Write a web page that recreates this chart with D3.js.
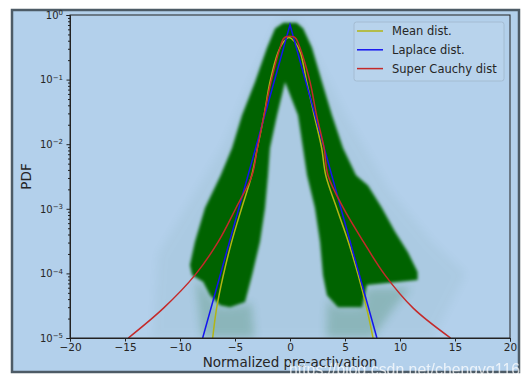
<!DOCTYPE html>
<html>
<head>
<meta charset="utf-8">
<script src="https://cdn.jsdelivr.net/npm/d3@7"></script>
<style>
  body { margin: 0; background: #ffffff; }
  text { font-family: "DejaVu Sans", sans-serif; }
</style>
</head>
<body>
<div id="chart"></div>
<script>
// ticks
var xTicks = [-20, -15, -10, -5, 0, 5, 10, 15, 20];
var yTickExps = [0, -1, -2, -3, -4, -5];

// legend
var seriesNames = ["Mean dist.", "Laplace dist.", "Super Cauchy dist"];

// curves: [x, pdf]
var meanDist = [
  [-7.03, 1e-5], [-6.67, 2.9e-5], [-6.06, 9.4e-5], [-5.3, 3.1e-4], [-4.39, 1.03e-3],
  [-3.48, 3.3e-3], [-2.97, 8.7e-3], [-2.36, 0.028], [-1.82, 0.092], [-1.1, 0.26],
  [-0.6, 0.38], [-0.1, 0.45], [0.45, 0.38], [0.95, 0.26], [1.52, 0.092], [2.2, 0.028],
  [2.88, 8.7e-3], [3.25, 3.3e-3], [4.24, 1.03e-3], [5.3, 3.1e-4], [6.2, 9.4e-5],
  [6.97, 2.9e-5], [7.55, 1e-5]
];
var laplaceDist = [[-7.94, 1e-5], [0, 0.707], [7.9, 1e-5]];
var cauchyDist = [
  [-14.7, 1e-5], [-11.5, 2.9e-5], [-8.64, 9.4e-5], [-6.52, 3.1e-4], [-4.91, 1.03e-3],
  [-3.45, 3.3e-3], [-2.97, 8.7e-3], [-2.36, 0.028], [-1.73, 0.092], [-0.91, 0.31],
  [-0.6, 0.43], [-0.35, 0.46], [0.3, 0.46], [0.55, 0.43], [0.91, 0.31], [1.82, 0.092],
  [2.42, 0.028], [3.1, 8.7e-3], [3.45, 3.3e-3], [4.85, 1.03e-3], [6.67, 3.1e-4],
  [8.64, 9.4e-5], [11.2, 2.9e-5], [14.6, 1e-5]
];

// outline of the dense green cloud of per-unit pdfs: [x, pdf]
var cloudCore = [
  [-0.6, 0.76], [-1.36, 0.62], [-2.09, 0.31], [-3.18, 0.092], [-4.36, 0.028],
  [-5.27, 8.7e-3], [-6.3, 3.3e-3], [-7.73, 1.03e-3], [-8.64, 3.1e-4], [-9.1, 1.35e-4],
  [-8.9, 9.4e-5], [-7.9, 7.4e-5], [-7.27, 4.6e-5], [-6.36, 3.2e-5], [-5.45, 3.0e-5],
  [-4.09, 3.6e-5], [-3.45, 9.4e-5], [-2.73, 3.1e-4], [-2.27, 1.03e-3], [-2.0, 3.3e-3],
  [-1.82, 8.7e-3], [-1.18, 0.028], [-0.45, 0.092], [0.73, 0.028], [1.18, 8.7e-3],
  [1.55, 3.3e-3], [2.27, 1.03e-3], [2.73, 3.1e-4], [3.0, 9.4e-5], [3.36, 4.6e-5],
  [4.36, 3.0e-5], [6.55, 3.0e-5], [7.0, 6.6e-5], [11.6, 7.9e-5], [11.6, 1.05e-4],
  [10.73, 2.1e-4], [9.55, 4.4e-4], [8.36, 1.03e-3], [7.09, 2.3e-3], [6.0, 3.3e-3],
  [4.82, 8.7e-3], [3.82, 0.028], [2.91, 0.092], [2.0, 0.31], [1.2, 0.62], [0.6, 0.76]
];
var cloudTailLeft = [
  [-8.6, 8e-5], [-8.0, 1e-5], [-3.2, 1e-5], [-3.5, 3.5e-5], [-4.5, 3.2e-5],
  [-6.5, 3e-5], [-7.8, 6e-5]
];
var cloudTailRight = [
  [3.4, 4e-5], [3.3, 1e-5], [7.5, 1e-5], [9.5, 3e-5], [11.0, 6e-5],
  [7.0, 6e-5], [6.5, 3e-5], [4.3, 3e-5]
];
var cloudHalo = [
  [-1.0, 0.9], [-3.5, 0.1], [-6.0, 0.01], [-9.5, 1e-3], [-12.0, 2e-4], [-12.5, 1e-5],
  [13.0, 1e-5], [16.0, 1e-4], [13.0, 3e-4], [9.0, 2e-3], [5.0, 0.03], [2.0, 0.3], [0.8, 0.9]
];

var width = 532, height = 387;
var margin = { left: 70, right: 22, top: 15, bottom: 49 };

var svg = d3
  .select("#chart")
  .append("svg")
  .attr("width", width)
  .attr("height", height);

// screenshot frame
svg
  .append("rect")
  .attr("x", 12)
  .attr("y", 10)
  .attr("width", 507)
  .attr("height", 362)
  .style("fill", "#b3d0eb")
  .style("stroke", "#4d5b66")
  .style("stroke-width", 2.5);

var x = d3.scaleLinear().domain([-20, 20]).range([margin.left, width - margin.right]);
var y = d3.scaleLog().domain([1e-5, 1]).range([height - margin.bottom, margin.top]);

var defs = svg.append("defs");
defs
  .append("clipPath")
  .attr("id", "plotClip")
  .append("rect")
  .attr("x", x(-20))
  .attr("y", y(1))
  .attr("width", x(20) - x(-20))
  .attr("height", y(1e-5) - y(1));
defs.append("filter").attr("id", "blurCore").attr("x", "-20%").attr("y", "-20%")
  .attr("width", "140%").attr("height", "140%")
  .append("feGaussianBlur").attr("stdDeviation", 1.8);
defs.append("filter").attr("id", "blurTail").attr("x", "-30%").attr("y", "-30%")
  .attr("width", "160%").attr("height", "160%")
  .append("feGaussianBlur").attr("stdDeviation", 4);

var plot = svg.append("g").attr("clip-path", "url(#plotClip)");

var shape = d3
  .line()
  .x(function (d) { return x(d[0]); })
  .y(function (d) { return y(d[1]); })
  .curve(d3.curveLinearClosed);

plot.append("path").attr("d", shape(cloudHalo))
  .style("fill", "#2f6b4a").style("opacity", 0.05).attr("filter", "url(#blurTail)");
plot.append("path").attr("d", shape(cloudTailLeft))
  .style("fill", "#1d7030").style("opacity", 0.22).attr("filter", "url(#blurTail)");
plot.append("path").attr("d", shape(cloudTailRight))
  .style("fill", "#1d7030").style("opacity", 0.22).attr("filter", "url(#blurTail)");
plot.append("path").attr("d", shape(cloudCore))
  .style("fill", "#006400").attr("filter", "url(#blurCore)");

var series = [
  { data: meanDist, color: "#b2b514", curve: d3.curveCatmullRom },
  { data: laplaceDist, color: "#1414f0", curve: d3.curveLinear },
  { data: cauchyDist, color: "#c42a2a", curve: d3.curveCatmullRom }
];

series.forEach(function (s) {
  var line = d3
    .line()
    .x(function (d) { return x(d[0]); })
    .y(function (d) { return y(d[1]); })
    .curve(s.curve);
  plot
    .append("path")
    .attr("d", line(s.data))
    .style("fill", "none")
    .style("stroke", s.color)
    .style("stroke-width", 1.5);
});

// axes
var xAxis = d3
  .axisBottom(x)
  .tickValues(xTicks)
  .tickSize(3.5)
  .tickPadding(2.5)
  .tickFormat(function (d) { return d < 0 ? "\u2212" + -d : d; });
var gx = svg
  .append("g")
  .attr("transform", "translate(0," + y(1e-5) + ")")
  .call(xAxis);
gx.selectAll("text").style("font-size", "10.5px").style("fill", "#262626");

var yMajor = yTickExps.map(function (e) { return Math.pow(10, e); });
var yMinor = [];
yTickExps.slice(1).forEach(function (e) {
  for (var k = 2; k <= 9; k++) yMinor.push(k * Math.pow(10, e));
});

var gyMinor = svg
  .append("g")
  .attr("transform", "translate(" + x(-20) + ",0)")
  .call(d3.axisLeft(y).tickValues(yMinor).tickSize(2).tickFormat(""));
gyMinor.select(".domain").remove();

var gy = svg
  .append("g")
  .attr("transform", "translate(" + x(-20) + ",0)")
  .call(d3.axisLeft(y).tickValues(yMajor).tickSize(3.5).tickFormat(""));

gy.selectAll(".tick").each(function (d) {
  var e = Math.round(Math.log10(d));
  var t = d3
    .select(this)
    .append("text")
    .attr("x", -7)
    .attr("dy", "0.32em")
    .style("text-anchor", "end")
    .style("font-size", "10px")
    .style("fill", "#262626");
  t.append("tspan").text("10");
  t.append("tspan")
    .attr("dy", "-0.5em")
    .style("font-size", "7px")
    .text(e < 0 ? "\u2212" + -e : e);
});

svg.selectAll(".domain").style("stroke", "#222");
svg.selectAll(".tick line").style("stroke", "#222");

// top and right spines
svg
  .append("rect")
  .attr("x", x(-20))
  .attr("y", y(1))
  .attr("width", x(20) - x(-20))
  .attr("height", y(1e-5) - y(1))
  .style("fill", "none")
  .style("stroke", "#222")
  .style("stroke-width", 1);

// axis labels
svg
  .append("text")
  .attr("x", (x(-20) + x(20)) / 2)
  .attr("y", 367)
  .style("text-anchor", "middle")
  .style("font-size", "13.5px")
  .style("fill", "#262626")
  .text("Normalized pre-activation");

svg
  .append("text")
  .attr("transform", "translate(31," + (y(1) + y(1e-5)) / 2 + ") rotate(-90)")
  .style("text-anchor", "middle")
  .style("font-size", "13.5px")
  .style("fill", "#262626")
  .text("PDF");

// legend
var legend = svg.append("g").attr("class", "legend");
legend
  .append("rect")
  .attr("x", 354)
  .attr("y", 22)
  .attr("width", 150)
  .attr("height", 59)
  .attr("rx", 2.5)
  .style("fill", "#b8d3ec")
  .style("stroke", "#a4bcd2")
  .style("stroke-width", 1);

seriesNames.forEach(function (name, i) {
  var cy = 31 + i * 18.8;
  legend
    .append("line")
    .attr("x1", 357)
    .attr("x2", 383)
    .attr("y1", cy)
    .attr("y2", cy)
    .style("stroke", series[i].color)
    .style("stroke-width", 1.5);
  legend
    .append("text")
    .attr("x", 392)
    .attr("y", cy)
    .attr("dy", "0.35em")
    .style("font-size", "11.5px")
    .style("fill", "#262626")
    .text(name);
});

// watermark
svg
  .append("text")
  .attr("x", 289)
  .attr("y", 375)
  .attr("textLength", 231)
  .attr("lengthAdjust", "spacingAndGlyphs")
  .style("font-family", "'Liberation Sans', Arial, sans-serif")
  .style("font-size", "16px")
  .style("fill", "#ffffff")
  .style("opacity", 0.75)
  .text("https://blog.csdn.net/chengyq116");
</script>
</body>
</html>
